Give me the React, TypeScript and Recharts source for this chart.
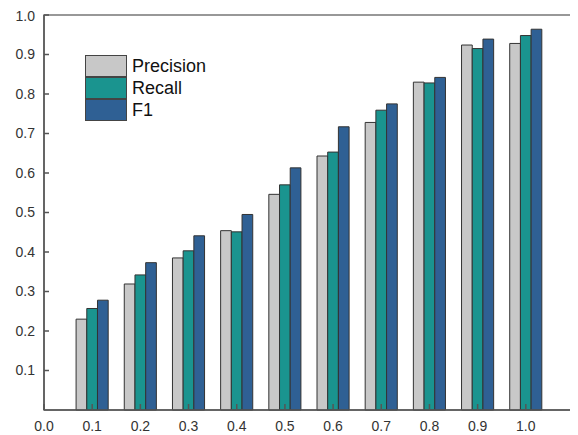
import React from "react";
import { BarChart, Bar, XAxis, YAxis, ReferenceArea } from "recharts";

const thresholds = [0.1, 0.2, 0.3, 0.4, 0.5, 0.6, 0.7, 0.8, 0.9, 1.0];
const precision = [0.23, 0.319, 0.385, 0.454, 0.546, 0.643, 0.728, 0.83, 0.924, 0.928];
const recall = [0.257, 0.342, 0.403, 0.451, 0.57, 0.653, 0.759, 0.828, 0.915, 0.948];
const f1 = [0.278, 0.373, 0.441, 0.495, 0.613, 0.717, 0.775, 0.842, 0.939, 0.964];
const xTicks = [0, 0.1, 0.2, 0.3, 0.4, 0.5, 0.6, 0.7, 0.8, 0.9, 1.0];
const yTicks = [0.1, 0.2, 0.3, 0.4, 0.5, 0.6, 0.7, 0.8, 0.9, 1.0];

const series = [
  { key: "precision", name: "Precision", color: "#c8c8c8" },
  { key: "recall", name: "Recall", color: "#1a948f" },
  { key: "f1", name: "F1", color: "#2f6094" },
];

const data = thresholds.map((x, i) => ({
  x,
  precision: precision[i],
  recall: recall[i],
  f1: f1[i],
}));

const font = "Arial, 'Liberation Sans', sans-serif";

function LegendBox() {
  return (
    <div style={{ position: "absolute", left: 77, top: 47, fontFamily: font }}>
      {series.map((s) => (
        <div key={s.key} style={{ display: "flex", alignItems: "center", height: 22 }}>
          <div
            style={{
              width: 40,
              height: 20,
              background: s.color,
              border: "1px solid #444",
            }}
          />
          <span style={{ marginLeft: 5, fontSize: 18, color: "#111" }}>{s.name}</span>
        </div>
      ))}
    </div>
  );
}

export default function App() {
  return (
    <div style={{ position: "relative", width: 570, height: 427, background: "#fff" }}>
      <BarChart
        width={570}
        height={427}
        data={data}
        margin={{ top: 7, right: 4, bottom: 0, left: 0 }}
        barGap={0}
        barSize={10.7}
      >
        <XAxis
          type="number"
          dataKey="x"
          domain={[0, 1.1]}
          ticks={xTicks}
          tickFormatter={(v: number) => v.toFixed(1)}
          height={25}
          tickSize={-6}
          tickMargin={17}
          stroke="#555"
          strokeWidth={1.5}
          tick={{ fill: "#333", fontSize: 14, fontFamily: font }}
        />
        <YAxis
          type="number"
          domain={[0, 1]}
          ticks={yTicks}
          tickFormatter={(v: number) => v.toFixed(1)}
          width={36}
          tickSize={-5}
          tickMargin={14}
          stroke="#555"
          strokeWidth={1.5}
          tick={{ fill: "#333", fontSize: 14, fontFamily: font }}
        />
        <ReferenceArea
          x1={0}
          x2={1.1}
          y1={0}
          y2={1}
          fill="none"
          stroke="#777"
          strokeWidth={1.5}
        />
        {series.map((s) => (
          <Bar
            key={s.key}
            dataKey={s.key}
            name={s.name}
            fill={s.color}
            stroke="#333"
            strokeWidth={1}
            isAnimationActive={false}
          />
        ))}
      </BarChart>
      <LegendBox />
    </div>
  );
}
